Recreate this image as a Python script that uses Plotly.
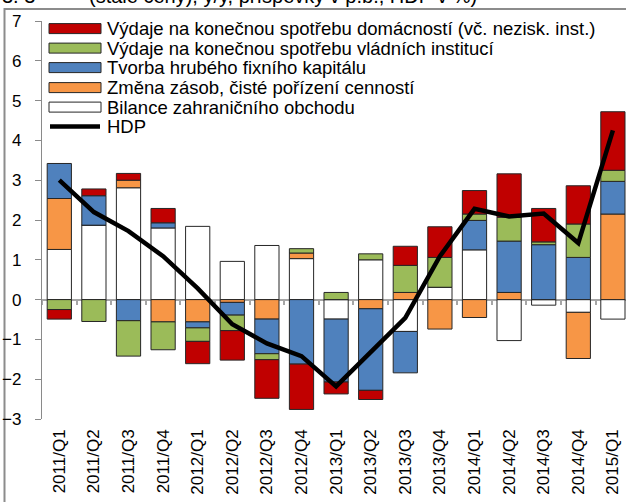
import plotly.graph_objects as go

quarters = ["2011/Q1", "2011/Q2", "2011/Q3", "2011/Q4",
            "2012/Q1", "2012/Q2", "2012/Q3", "2012/Q4",
            "2013/Q1", "2013/Q2", "2013/Q3", "2013/Q4",
            "2014/Q1", "2014/Q2", "2014/Q3", "2014/Q4",
            "2015/Q1"]

# contributions in p.b.
bilance = [1.26, 1.87, 2.81, 1.80, 1.84, 0.96, 1.36, 1.03, -0.49, 1.00, -0.80, 0.31, 1.25, -1.03, -0.14, -0.32, -0.49]
zasoby = [1.28, 0.00, 0.19, -0.56, -0.56, -0.07, -0.49, 0.14, 0.00, -0.23, 0.18, -0.74, -0.45, 0.18, 0.00, -1.16, 2.15]
tvorba = [0.88, 0.74, -0.53, 0.13, -0.15, -0.32, -0.87, -1.62, -1.58, -2.05, -1.04, 0.00, 0.74, 1.29, 1.38, 1.06, 0.82]
vladni = [-0.25, -0.55, -0.89, -0.70, -0.34, -0.39, -0.15, 0.11, 0.18, 0.15, 0.68, 0.75, 0.16, 0.60, 0.07, 0.84, 0.28]
domacnosti = [-0.24, 0.17, 0.17, 0.36, -0.56, -0.74, -0.97, -1.14, -0.30, -0.23, 0.48, 0.77, 0.59, 1.09, 0.84, 0.96, 1.47]
hdp = [3.0, 2.2, 1.72, 1.09, 0.28, -0.62, -1.1, -1.42, -2.18, -1.32, -0.46, 1.09, 2.28, 2.09, 2.16, 1.42, 4.25]

legend_labels = [
    "Výdaje na konečnou spotřebu domácností (vč. nezisk. inst.)",
    "Výdaje na konečnou spotřebu vládních institucí",
    "Tvorba hrubého fixního kapitálu",
    "Změna zásob, čisté pořízení cenností",
    "Bilance zahraničního obchodu",
    "HDP",
]
title_left = "3. 3"
title_text = "(stálé ceny), y/y, příspěvky v p.b., HDP v %)"

C_RED = "#C00000"
C_GREEN = "#9BBB59"
C_BLUE = "#4F81BD"
C_ORANGE = "#F79646"
C_WHITE = "#FFFFFF"
OUTLINE = "#262626"
AXIS = "#8a8a8a"
FONT = "Liberation Sans, Arial, sans-serif"

W, H = 626, 502
ML, MT = 42, 21.4
PW = W - ML
PH = 398
MB = H - MT - PH

def px(x):
    return (x - ML) / PW

def py(y):
    return (MT + PH - y) / PH

fig = go.Figure()
series = [
    (bilance, C_WHITE, legend_labels[4]),
    (zasoby, C_ORANGE, legend_labels[3]),
    (tvorba, C_BLUE, legend_labels[2]),
    (vladni, C_GREEN, legend_labels[1]),
    (domacnosti, C_RED, legend_labels[0]),
]
for vals, col, name in series:
    fig.add_trace(go.Bar(x=quarters, y=vals, name=name, marker=dict(color=col, line=dict(color=OUTLINE, width=1)),
                         showlegend=False))
fig.add_trace(go.Scatter(x=quarters, y=hdp, name="HDP", mode="lines",
                         line=dict(color="black", width=4.5), showlegend=False))

# hidden helper trace for zero-line axis
fig.add_trace(go.Scatter(x=[0], y=[0], xaxis="x2", mode="markers", marker=dict(opacity=0),
                         showlegend=False, hoverinfo="skip"))

n = len(quarters)
xmax = -0.5 + PW / 34.6

fig.update_layout(
    width=W, height=H,
    margin=dict(l=ML, r=0, t=MT, b=MB, pad=0),
    plot_bgcolor="white", paper_bgcolor="white",
    barmode="relative", bargap=0.3,
    font=dict(family=FONT, size=17, color="black"),
    xaxis=dict(type="category", range=[-0.5, xmax], showline=False, ticks="",
               tickangle=-90, tickfont=dict(size=17), showgrid=False, zeroline=False,
               ticklabelstandoff=6, automargin=False),
    xaxis2=dict(overlaying="x", anchor="free", position=0.3, range=[-0.5, xmax],
                showline=True, linecolor="#a6a6a6", linewidth=1.5,
                ticks="outside", tickcolor="#a6a6a6", ticklen=5, tickwidth=1.5,
                tickvals=[i - 0.5 for i in range(n + 1)], showticklabels=False,
                showgrid=False, zeroline=False, layer="below traces", automargin=False),
    yaxis=dict(range=[-3, 7], dtick=1, showline=True, linecolor=AXIS, linewidth=1.2,
               ticks="outside", ticklen=6, tickcolor=AXIS, showgrid=False, zeroline=False,
               tickfont=dict(size=17), ticklabelstandoff=10, automargin=False),
)

shapes = []
annotations = []
# outer frame
shapes.append(dict(type="rect", xref="paper", yref="paper", x0=px(4.5), y0=py(520), x1=px(640), y1=py(9.5),
                   line=dict(color="#8c8c8c", width=2), layer="below"))

# custom legend
rows = [29, 48.5, 68, 88, 107.5]
cols = [C_RED, C_GREEN, C_BLUE, C_ORANGE, C_WHITE]
for r, c in zip(rows, cols):
    shapes.append(dict(type="rect", xref="paper", yref="paper", x0=px(49), x1=px(101), y0=py(r + 5), y1=py(r - 5),
                       fillcolor=c, line=dict(color=OUTLINE, width=1)))
shapes.append(dict(type="line", xref="paper", yref="paper", x0=px(50), x1=px(100), y0=py(127), y1=py(127),
                   line=dict(color="black", width=4.5)))
for r, t in zip(rows + [127], legend_labels):
    annotations.append(dict(text=t, xref="paper", yref="paper", x=px(105), y=py(r), xanchor="left", yanchor="middle",
                            showarrow=False, font=dict(size=18.5)))

# title (cut off at the top, as in the source image)
annotations.append(dict(text=title_left, xref="paper", yref="paper", x=px(0), y=py(9), xanchor="left",
                        yanchor="bottom", showarrow=False, font=dict(size=20)))
annotations.append(dict(text=title_text, xref="paper", yref="paper", x=px(87), y=py(9), xanchor="left",
                        yanchor="bottom", showarrow=False, font=dict(size=20)))

fig.update_layout(shapes=shapes, annotations=annotations)
fig.write_html("out.html", config={"displayModeBar": False},
               post_script="document.body.style.margin='0';document.body.style.overflow='hidden';")
